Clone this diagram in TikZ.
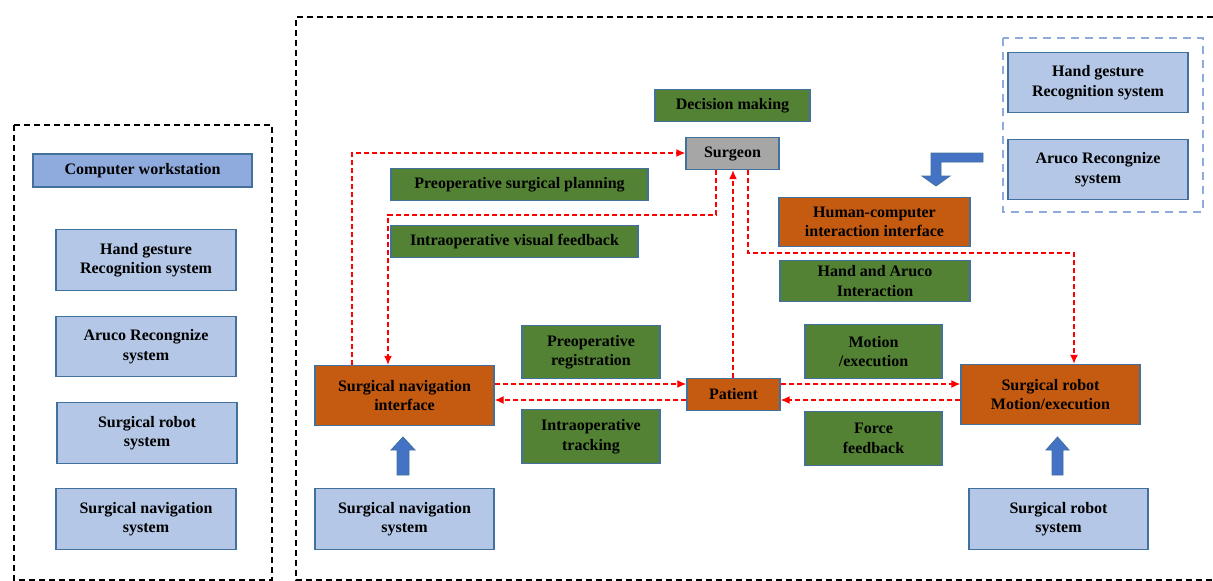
\documentclass[tikz,border=0pt]{standalone}
\usepackage{fontspec}
\setmainfont{Liberation Serif}
\usetikzlibrary{arrows.meta}
\begin{document}
\begin{tikzpicture}[x=1pt,y=-1pt,
  box/.style={draw=bordc, line width=1.4pt, inner sep=0pt, align=center,
     font=\bfseries\fontsize{16}{19.5}\selectfont, text=black},
  lb/.style={box, fill=lblue},
  db/.style={box, fill=dblue},
  gb/.style={box, fill=gr},
  ob/.style={box, fill=orng},
  yb/.style={box, fill=gry},
  conn/.style={draw=red, line width=1.3pt, dash pattern=on 5pt off 3pt, -{Latex[length=9pt,width=8pt]}},
  blk/.style={fill=arrb, draw=bordc, line width=0.8pt},
]
\definecolor{bordc}{HTML}{41719C}
\definecolor{lblue}{HTML}{B4C7E7}
\definecolor{dblue}{HTML}{8FAADC}
\definecolor{gr}{HTML}{548235}
\definecolor{orng}{HTML}{C55A11}
\definecolor{gry}{HTML}{A6A6A6}
\definecolor{arrb}{HTML}{4472C4}
\definecolor{dashblue}{HTML}{8FAADC}
\useasboundingbox (0,0) rectangle (1213,581);
% outer dashed frames
\draw[line width=1.8pt, dash pattern=on 6pt off 4pt] (14,125) rectangle (272,580);
\draw[line width=1.8pt, dash pattern=on 6pt off 4pt] (1213,17) -- (296,17) -- (296,580) -- (1213,580);
\draw[dashblue, line width=1.8pt, dash pattern=on 8pt off 6pt] (1003,38) rectangle (1203,212);
% left column
\node[db, minimum width=219pt, minimum height=33pt] (cw) at (142.5,170.5) {Computer workstation};
\node[lb, minimum width=180pt, minimum height=61pt] (lhg) at (146,260) {Hand gesture\\Recognition system};
\node[lb, minimum width=180pt, minimum height=60pt] (lar) at (146,346.5) {Aruco Recongnize\\system};
\node[lb, minimum width=180pt, minimum height=61pt] (lsr) at (147,433) {Surgical robot\\system};
\node[lb, minimum width=180pt, minimum height=61pt] (lsn) at (146,519) {Surgical navigation\\system};
% right top group
\node[lb, minimum width=180pt, minimum height=60pt] (rhg) at (1098,82.5) {Hand gesture\\Recognition system};
\node[lb, minimum width=180pt, minimum height=60pt] (rar) at (1098,169.5) {Aruco Recongnize\\system};
% main nodes
\node[gb, minimum width=155pt, minimum height=32pt] (dm) at (732.5,105.5) {Decision making};
\node[yb, minimum width=93pt, minimum height=32pt] (sg) at (732.5,153.5) {Surgeon};
\node[gb, minimum width=257pt, minimum height=32pt] (psp) at (519.5,184.5) {Preoperative surgical planning};
\node[gb, minimum width=247pt, minimum height=32pt] (ivf) at (514.5,241.5) {Intraoperative visual feedback};
\node[ob, minimum width=191pt, minimum height=49pt] (hci) at (874.5,222) {Human-computer\\interaction interface};
\node[gb, minimum width=190pt, minimum height=41pt] (hai) at (875,281) {Hand and Aruco\\Interaction};
\node[gb, minimum width=138pt, minimum height=53pt] (pr) at (591,352) {Preoperative\\registration};
\node[gb, minimum width=138pt, minimum height=54pt] (it) at (591,436.5) {Intraoperative\\tracking};
\node[gb, minimum width=137pt, minimum height=54pt] (me) at (873.5,351.5) {Motion\\/execution};
\node[gb, minimum width=137pt, minimum height=54pt] (ff) at (873.5,438.5) {Force\\feedback};
\node[ob, minimum width=179pt, minimum height=60pt] (sni) at (404.5,395.5) {Surgical navigation\\interface};
\node[ob, minimum width=93pt, minimum height=32pt] (pt) at (733.5,394.5) {Patient};
\node[ob, minimum width=179pt, minimum height=60pt] (srm) at (1050.5,394.5) {Surgical robot\\Motion/execution};
\node[lb, minimum width=179pt, minimum height=61pt] (sns) at (404.5,519) {Surgical navigation\\system};
\node[lb, minimum width=179pt, minimum height=61pt] (srs) at (1058.5,519) {Surgical robot\\system};
% block arrows
\draw[blk] (397,475) -- (397,450) -- (391,450) -- (403,437) -- (415,450) -- (409,450) -- (409,475) -- cycle;
\draw[blk] (1052,475) -- (1052,450) -- (1046,450) -- (1057.5,437) -- (1069,450) -- (1063,450) -- (1063,475) -- cycle;
\draw[blk] (983,153) -- (931,153) -- (931,176) -- (922,176) -- (936,186) -- (950,176) -- (941,176) -- (941,162) -- (983,162) -- cycle;
% connector waypoints
\coordinate (c1) at (352,153);
\coordinate (c2a) at (716,215);
\coordinate (c2b) at (388,215);
\coordinate (c3) at (733,0);
\coordinate (c4a) at (748,253);
\coordinate (c4b) at (1074,253);
\coordinate (ya) at (0,384);
\coordinate (yb) at (0,400);
% red dashed connectors
\draw[conn] (sni.north -| c1) -- (c1) -- (sg.west |- c1);
\draw[conn] (sg.south -| c2a) -- (c2a) -- (c2b) -- (sni.north -| c2b);
\draw[conn] (pt.north -| c3) -- (sg.south -| c3);
\draw[conn] (sg.south -| c4a) -- (c4a) -- (c4b) -- (srm.north -| c4b);
\draw[conn] (sni.east |- ya) -- (pt.west |- ya);
\draw[conn] (pt.west |- yb) -- (sni.east |- yb);
\draw[conn] (pt.east |- ya) -- (srm.west |- ya);
\draw[conn] (srm.west |- yb) -- (pt.east |- yb);
\end{tikzpicture}
\end{document}
